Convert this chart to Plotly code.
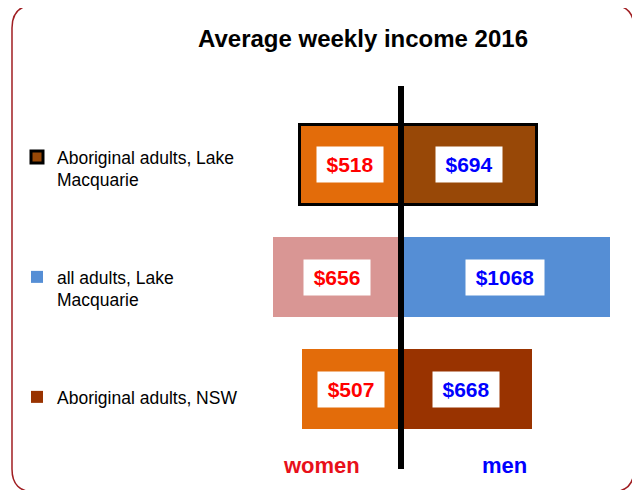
import plotly.graph_objects as go

# ---- data ----
groups = ["Aboriginal adults, NSW", "all adults, Lake<br>Macquarie", "Aboriginal adults, Lake<br>Macquarie"]
women = [507, 656, 518]
men = [668, 1068, 694]
women_colors = ["#e36c0a", "#d99694", "#e36c0a"]
men_colors = ["#993300", "#558ed5", "#984807"]
outline = [0, 0, 3]
row_pos = [0, 1, 2]
legend_names = ["legend3", "legend2", "legend"]

FONT = "Liberation Sans, Arial, sans-serif"
OFF = 8  # page offset of the plot div (body margin)
W, H = 640 - OFF, 490 - OFF
# design coordinates are page pixels; convert to figure pixels by subtracting OFF
L, R, T, B = 260 - OFF, 20, 86 - OFF, 490 - 469
plot_w = W - L - R
plot_h = H - T - B
zero_px = 401 - OFF
scale = 0.1955  # px per dollar
x_range = [-(zero_px - L) / scale, (W - R - zero_px) / scale]
y_range = [-0.714, 2.705]

def px_to_paper_x(px):
    return (px - OFF - L) / plot_w

def py_to_paper_y(py):
    return (H - B - (py - OFF)) / plot_h

fig = go.Figure()
for i in range(3):
    lw = outline[i]
    fig.add_trace(go.Bar(
        y=[row_pos[i]], x=[-women[i]], orientation="h", width=0.714,
        marker=dict(color=women_colors[i], line=dict(color="black", width=lw)),
        showlegend=False, hoverinfo="skip", name="women",
    ))
    fig.add_trace(go.Bar(
        y=[row_pos[i]], x=[men[i]], orientation="h", width=0.714,
        marker=dict(color=men_colors[i], line=dict(color="black", width=lw)),
        name=groups[i], legend=legend_names[i], showlegend=True, hoverinfo="skip",
    ))

# value labels
for i in range(3):
    fig.add_annotation(x=-women[i] / 2, y=row_pos[i], text="<b>$%d</b>" % women[i],
                       showarrow=False, bgcolor="white", width=64 if women[i] < 1000 else 76,
                       height=33, font=dict(family=FONT, size=21, color="#ff0000"))
    fig.add_annotation(x=men[i] / 2, y=row_pos[i], text="<b>$%d</b>" % men[i],
                       showarrow=False, bgcolor="white", width=64 if men[i] < 1000 else 76,
                       height=33, font=dict(family=FONT, size=21, color="#0000ff"))

# women / men labels
fig.add_annotation(x=px_to_paper_x(321), xref="paper", y=py_to_paper_y(465), yref="paper",
                   xanchor="center", yanchor="middle",
                   text="<b>women</b>", showarrow=False,
                   font=dict(family=FONT, size=22, color="#e8101a"))
fig.add_annotation(x=px_to_paper_x(504), xref="paper", y=py_to_paper_y(465), yref="paper",
                   xanchor="center", yanchor="middle",
                   text="<b>men</b>", showarrow=False,
                   font=dict(family=FONT, size=22, color="#0000ff"))

# centre line
fig.add_shape(type="line", xref="x", yref="y domain", x0=0, x1=0, y0=0, y1=1,
              line=dict(color="black", width=6), layer="above")

# rounded border
x0, x1, y0, y1, r = 12, 634, 5, 492, 23
pts = lambda px, py: "%f,%f" % (px_to_paper_x(px), py_to_paper_y(py))
path = ("M " + pts(x0 + r, y0) + " L " + pts(x1 - r, y0) +
        " Q " + pts(x1, y0) + " " + pts(x1, y0 + r) +
        " L " + pts(x1, y1 - r) + " Q " + pts(x1, y1) + " " + pts(x1 - r, y1) +
        " L " + pts(x0 + r, y1) + " Q " + pts(x0, y1) + " " + pts(x0, y1 - r) +
        " L " + pts(x0, y0 + r) + " Q " + pts(x0, y0) + " " + pts(x0 + r, y0) + " Z")
fig.add_shape(type="path", xref="paper", yref="paper", path=path,
              line=dict(color="#a01e22", width=1.5), layer="above")

legend_common = dict(font=dict(family=FONT, size=17.5, color="black"), bgcolor="rgba(0,0,0,0)",
                     xanchor="left", yanchor="top", valign="top", itemclick=False,
                     itemdoubleclick=False, borderwidth=0)
fig.update_layout(
    width=W, height=H, margin=dict(l=L, r=R, t=T, b=B, autoexpand=False),
    paper_bgcolor="white", plot_bgcolor="white",
    barmode="overlay", bargap=0,
    title=dict(text="Average weekly income 2016", x=(363 - OFF) / W, xref="container", xanchor="center",
               y=1 - (39 - OFF) / H, yref="container", yanchor="middle",
               font=dict(family=FONT, size=24, color="black", weight="bold")),
    xaxis=dict(range=x_range, visible=False, fixedrange=True),
    yaxis=dict(range=y_range, visible=False, fixedrange=True),
    legend=dict(x=px_to_paper_x(17), y=py_to_paper_y(139), **legend_common),
    legend2=dict(x=px_to_paper_x(17), y=py_to_paper_y(259), **legend_common),
    legend3=dict(x=px_to_paper_x(17), y=py_to_paper_y(379), **legend_common),
    showlegend=True,
)

fig.write_html("out.html")
